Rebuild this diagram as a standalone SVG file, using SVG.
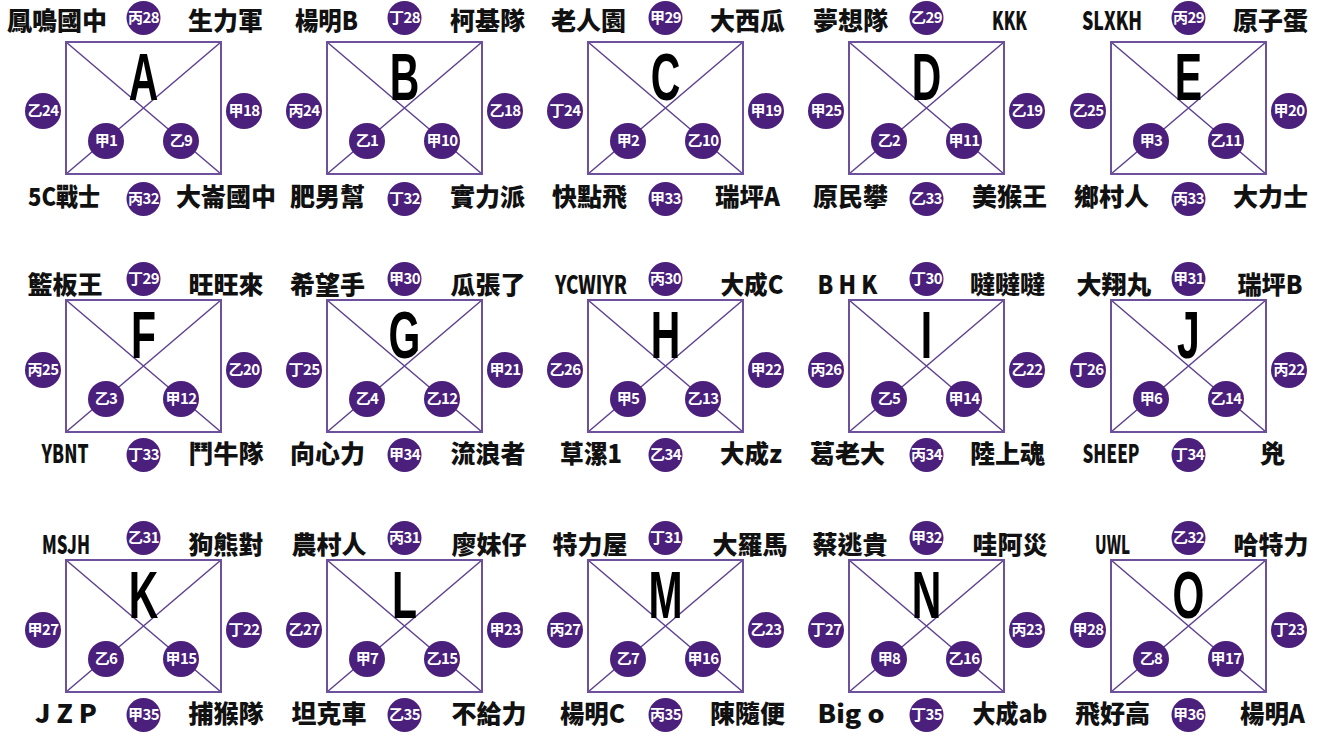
<svg xmlns="http://www.w3.org/2000/svg" width="1322" height="737" viewBox="0 0 1322 737">
<style>
.box{fill:none;stroke:#6d519c;stroke-width:2}
.dg{fill:none;stroke:#5f4291;stroke-width:1.5}
.big{font-family:"Liberation Sans",Arial,sans-serif;font-weight:bold;font-size:66px;text-anchor:middle;fill:#000}
.c{fill:#4b1f7c}
.s{r:18px}
.tb{r:17px}
.cl{font-family:"Noto Sans CJK TC","Noto Sans",sans-serif;font-weight:bold;font-size:15px;letter-spacing:-0.6px;text-anchor:middle;fill:#fff}
.t{font-family:"Noto Sans CJK TC","Noto Sans",sans-serif;font-weight:900;font-size:25px;text-anchor:middle;fill:#111}
</style>
<rect width="1322" height="737" fill="#fff"/>
<g id="connectors">
<path class="dg" d="M66,42L221,174M221,42L66,174"/>
<path class="dg" d="M327,42L482,174M482,42L327,174"/>
<path class="dg" d="M588,42L743,174M743,42L588,174"/>
<path class="dg" d="M849,42L1004,174M1004,42L849,174"/>
<path class="dg" d="M1111,42L1266,174M1266,42L1111,174"/>
<path class="dg" d="M66,300L221,432M221,300L66,432"/>
<path class="dg" d="M327,300L482,432M482,300L327,432"/>
<path class="dg" d="M588,300L743,432M743,300L588,432"/>
<path class="dg" d="M849,300L1004,432M1004,300L849,432"/>
<path class="dg" d="M1111,300L1266,432M1266,300L1111,432"/>
<path class="dg" d="M66,560L221,692M221,560L66,692"/>
<path class="dg" d="M327,560L482,692M482,560L327,692"/>
<path class="dg" d="M588,560L743,692M743,560L588,692"/>
<path class="dg" d="M849,560L1004,692M1004,560L849,692"/>
<path class="dg" d="M1111,560L1266,692M1266,560L1111,692"/>
</g>

<g id="node-A" transform="translate(66,42)">
<rect class="box" width="155" height="132"/>
<text class="big" transform="translate(77.5,57.5) scale(0.62,1)">A</text>
<circle class="c" cx="77.5" cy="-24" r="17"/><text class="cl" x="77.5" y="-18.8">丙28</text>
<circle class="c" cx="-23" cy="69" r="18"/><text class="cl" x="-23" y="74.2">乙24</text>
<circle class="c" cx="178" cy="69" r="18"/><text class="cl" x="178" y="74.2">甲18</text>
<circle class="c" cx="40" cy="99" r="18"/><text class="cl" x="40" y="104.2">甲1</text>
<circle class="c" cx="115" cy="99" r="18"/><text class="cl" x="115" y="104.2">乙9</text>
<circle class="c" cx="77.5" cy="157" r="17"/><text class="cl" x="77.5" y="162.2">丙32</text>
<text class="t" x="-9" y="-12">鳳鳴國中</text>
<text class="t" x="159.5" y="-12">生力軍</text>
<text class="t" x="-2" y="164" textLength="72" lengthAdjust="spacingAndGlyphs">5C戰士</text>
<text class="t" x="160" y="164">大崙國中</text>
</g>

<g id="node-B" transform="translate(327,42)">
<rect class="box" width="155" height="132"/>
<text class="big" transform="translate(77.5,57.5) scale(0.62,1)">B</text>
<circle class="c" cx="77.5" cy="-24" r="17"/><text class="cl" x="77.5" y="-18.8">丁28</text>
<circle class="c" cx="-23" cy="69" r="18"/><text class="cl" x="-23" y="74.2">丙24</text>
<circle class="c" cx="178" cy="69" r="18"/><text class="cl" x="178" y="74.2">乙18</text>
<circle class="c" cx="40" cy="99" r="18"/><text class="cl" x="40" y="104.2">乙1</text>
<circle class="c" cx="115" cy="99" r="18"/><text class="cl" x="115" y="104.2">甲10</text>
<circle class="c" cx="77.5" cy="157" r="17"/><text class="cl" x="77.5" y="162.2">丁32</text>
<text class="t" x="-0.5" y="-12" textLength="63" lengthAdjust="spacingAndGlyphs">楊明B</text>
<text class="t" x="160.5" y="-12">柯基隊</text>
<text class="t" x="0.5" y="164">肥男幫</text>
<text class="t" x="160.5" y="164">實力派</text>
</g>

<g id="node-C" transform="translate(588,42)">
<rect class="box" width="155" height="132"/>
<text class="big" transform="translate(77.5,57.5) scale(0.62,1)">C</text>
<circle class="c" cx="77.5" cy="-24" r="17"/><text class="cl" x="77.5" y="-18.8">甲29</text>
<circle class="c" cx="-23" cy="69" r="18"/><text class="cl" x="-23" y="74.2">丁24</text>
<circle class="c" cx="178" cy="69" r="18"/><text class="cl" x="178" y="74.2">甲19</text>
<circle class="c" cx="40" cy="99" r="18"/><text class="cl" x="40" y="104.2">甲2</text>
<circle class="c" cx="115" cy="99" r="18"/><text class="cl" x="115" y="104.2">乙10</text>
<circle class="c" cx="77.5" cy="157" r="17"/><text class="cl" x="77.5" y="162.2">甲33</text>
<text class="t" x="0.5" y="-12">老人園</text>
<text class="t" x="159.5" y="-12">大西瓜</text>
<text class="t" x="1.5" y="164">快點飛</text>
<text class="t" x="159.5" y="164" textLength="65" lengthAdjust="spacingAndGlyphs">瑞坪A</text>
</g>

<g id="node-D" transform="translate(849,42)">
<rect class="box" width="155" height="132"/>
<text class="big" transform="translate(77.5,57.5) scale(0.62,1)">D</text>
<circle class="c" cx="77.5" cy="-24" r="17"/><text class="cl" x="77.5" y="-18.8">乙29</text>
<circle class="c" cx="-23" cy="69" r="18"/><text class="cl" x="-23" y="74.2">甲25</text>
<circle class="c" cx="178" cy="69" r="18"/><text class="cl" x="178" y="74.2">乙19</text>
<circle class="c" cx="40" cy="99" r="18"/><text class="cl" x="40" y="104.2">乙2</text>
<circle class="c" cx="115" cy="99" r="18"/><text class="cl" x="115" y="104.2">甲11</text>
<circle class="c" cx="77.5" cy="157" r="17"/><text class="cl" x="77.5" y="162.2">乙33</text>
<text class="t" x="1.5" y="-12">夢想隊</text>
<text class="t" x="160.5" y="-12" textLength="35" lengthAdjust="spacingAndGlyphs">KKK</text>
<text class="t" x="1.5" y="164">原民攀</text>
<text class="t" x="160.5" y="164">美猴王</text>
</g>

<g id="node-E" transform="translate(1111,42)">
<rect class="box" width="155" height="132"/>
<text class="big" transform="translate(77.5,57.5) scale(0.62,1)">E</text>
<circle class="c" cx="77.5" cy="-24" r="17"/><text class="cl" x="77.5" y="-18.8">丙29</text>
<circle class="c" cx="-23" cy="69" r="18"/><text class="cl" x="-23" y="74.2">乙25</text>
<circle class="c" cx="178" cy="69" r="18"/><text class="cl" x="178" y="74.2">甲20</text>
<circle class="c" cx="40" cy="99" r="18"/><text class="cl" x="40" y="104.2">甲3</text>
<circle class="c" cx="115" cy="99" r="18"/><text class="cl" x="115" y="104.2">乙11</text>
<circle class="c" cx="77.5" cy="157" r="17"/><text class="cl" x="77.5" y="162.2">丙33</text>
<text class="t" x="1" y="-12" textLength="60" lengthAdjust="spacingAndGlyphs">SLXKH</text>
<text class="t" x="159.5" y="-12">原子蛋</text>
<text class="t" x="0.5" y="164">鄉村人</text>
<text class="t" x="159.5" y="164">大力士</text>
</g>

<g id="node-F" transform="translate(66,300)">
<rect class="box" width="155" height="132"/>
<text class="big" transform="translate(77.5,57.5) scale(0.62,1)">F</text>
<circle class="c" cx="77.5" cy="-21" r="17"/><text class="cl" x="77.5" y="-15.8">丁29</text>
<circle class="c" cx="-23" cy="70" r="18"/><text class="cl" x="-23" y="75.2">丙25</text>
<circle class="c" cx="178" cy="70" r="18"/><text class="cl" x="178" y="75.2">乙20</text>
<circle class="c" cx="40" cy="99" r="18"/><text class="cl" x="40" y="104.2">乙3</text>
<circle class="c" cx="115" cy="99" r="18"/><text class="cl" x="115" y="104.2">甲12</text>
<circle class="c" cx="77.5" cy="155" r="17"/><text class="cl" x="77.5" y="160.2">丁33</text>
<text class="t" x="-1" y="-6">籃板王</text>
<text class="t" x="160" y="-6">旺旺來</text>
<text class="t" x="-1" y="163" textLength="47" lengthAdjust="spacingAndGlyphs">YBNT</text>
<text class="t" x="160" y="163">鬥牛隊</text>
</g>

<g id="node-G" transform="translate(327,300)">
<rect class="box" width="155" height="132"/>
<text class="big" transform="translate(77.5,57.5) scale(0.62,1)">G</text>
<circle class="c" cx="77.5" cy="-21" r="17"/><text class="cl" x="77.5" y="-15.8">甲30</text>
<circle class="c" cx="-23" cy="70" r="18"/><text class="cl" x="-23" y="75.2">丁25</text>
<circle class="c" cx="178" cy="70" r="18"/><text class="cl" x="178" y="75.2">甲21</text>
<circle class="c" cx="40" cy="99" r="18"/><text class="cl" x="40" y="104.2">乙4</text>
<circle class="c" cx="115" cy="99" r="18"/><text class="cl" x="115" y="104.2">乙12</text>
<circle class="c" cx="77.5" cy="155" r="17"/><text class="cl" x="77.5" y="160.2">甲34</text>
<text class="t" x="0.5" y="-6">希望手</text>
<text class="t" x="161" y="-6">瓜張了</text>
<text class="t" x="0.5" y="163">向心力</text>
<text class="t" x="161" y="163">流浪者</text>
</g>

<g id="node-H" transform="translate(588,300)">
<rect class="box" width="155" height="132"/>
<text class="big" transform="translate(77.5,57.5) scale(0.62,1)">H</text>
<circle class="c" cx="77.5" cy="-21" r="17"/><text class="cl" x="77.5" y="-15.8">丙30</text>
<circle class="c" cx="-23" cy="70" r="18"/><text class="cl" x="-23" y="75.2">乙26</text>
<circle class="c" cx="178" cy="70" r="18"/><text class="cl" x="178" y="75.2">甲22</text>
<circle class="c" cx="40" cy="99" r="18"/><text class="cl" x="40" y="104.2">甲5</text>
<circle class="c" cx="115" cy="99" r="18"/><text class="cl" x="115" y="104.2">乙13</text>
<circle class="c" cx="77.5" cy="155" r="17"/><text class="cl" x="77.5" y="160.2">乙34</text>
<text class="t" x="3" y="-6" textLength="72" lengthAdjust="spacingAndGlyphs">YCWIYR</text>
<text class="t" x="164" y="-6" textLength="63" lengthAdjust="spacingAndGlyphs">大成C</text>
<text class="t" x="3" y="163" textLength="62" lengthAdjust="spacingAndGlyphs">草漯1</text>
<text class="t" x="163" y="163" textLength="62" lengthAdjust="spacingAndGlyphs">大成z</text>
</g>

<g id="node-I" transform="translate(849,300)">
<rect class="box" width="155" height="132"/>
<text class="big" transform="translate(77.5,57.5) scale(0.62,1)">I</text>
<circle class="c" cx="77.5" cy="-21" r="17"/><text class="cl" x="77.5" y="-15.8">丁30</text>
<circle class="c" cx="-23" cy="70" r="18"/><text class="cl" x="-23" y="75.2">丙26</text>
<circle class="c" cx="178" cy="70" r="18"/><text class="cl" x="178" y="75.2">乙22</text>
<circle class="c" cx="40" cy="99" r="18"/><text class="cl" x="40" y="104.2">乙5</text>
<circle class="c" cx="115" cy="99" r="18"/><text class="cl" x="115" y="104.2">甲14</text>
<circle class="c" cx="77.5" cy="155" r="17"/><text class="cl" x="77.5" y="160.2">丙34</text>
<text class="t" x="-1.5" y="-6" textLength="60" lengthAdjust="spacingAndGlyphs">B H K</text>
<text class="t" x="158.5" y="-6">噠噠噠</text>
<text class="t" x="-1.5" y="163">葛老大</text>
<text class="t" x="158.5" y="163">陸上魂</text>
</g>

<g id="node-J" transform="translate(1111,300)">
<rect class="box" width="155" height="132"/>
<text class="big" transform="translate(77.5,57.5) scale(0.62,1)">J</text>
<circle class="c" cx="77.5" cy="-21" r="17"/><text class="cl" x="77.5" y="-15.8">甲31</text>
<circle class="c" cx="-23" cy="70" r="18"/><text class="cl" x="-23" y="75.2">丁26</text>
<circle class="c" cx="178" cy="70" r="18"/><text class="cl" x="178" y="75.2">丙22</text>
<circle class="c" cx="40" cy="99" r="18"/><text class="cl" x="40" y="104.2">甲6</text>
<circle class="c" cx="115" cy="99" r="18"/><text class="cl" x="115" y="104.2">乙14</text>
<circle class="c" cx="77.5" cy="155" r="17"/><text class="cl" x="77.5" y="160.2">丁34</text>
<text class="t" x="3" y="-6">大翔丸</text>
<text class="t" x="159" y="-6" textLength="65" lengthAdjust="spacingAndGlyphs">瑞坪B</text>
<text class="t" x="0" y="163" textLength="57" lengthAdjust="spacingAndGlyphs">SHEEP</text>
<text class="t" x="161.5" y="163">兇</text>
</g>

<g id="node-K" transform="translate(66,560)">
<rect class="box" width="155" height="132"/>
<text class="big" transform="translate(77.5,57.5) scale(0.62,1)">K</text>
<circle class="c" cx="77.5" cy="-22" r="17"/><text class="cl" x="77.5" y="-16.8">乙31</text>
<circle class="c" cx="-23" cy="70" r="18"/><text class="cl" x="-23" y="75.2">甲27</text>
<circle class="c" cx="178" cy="70" r="18"/><text class="cl" x="178" y="75.2">丁22</text>
<circle class="c" cx="40" cy="99" r="18"/><text class="cl" x="40" y="104.2">乙6</text>
<circle class="c" cx="115" cy="99" r="18"/><text class="cl" x="115" y="104.2">甲15</text>
<circle class="c" cx="77.5" cy="155" r="17"/><text class="cl" x="77.5" y="160.2">甲35</text>
<text class="t" x="0" y="-6" textLength="48" lengthAdjust="spacingAndGlyphs">MSJH</text>
<text class="t" x="160" y="-6">狗熊對</text>
<text class="t" x="0" y="163" textLength="62" lengthAdjust="spacingAndGlyphs">J Z P</text>
<text class="t" x="160" y="163">捕猴隊</text>
</g>

<g id="node-L" transform="translate(327,560)">
<rect class="box" width="155" height="132"/>
<text class="big" transform="translate(77.5,57.5) scale(0.62,1)">L</text>
<circle class="c" cx="77.5" cy="-22" r="17"/><text class="cl" x="77.5" y="-16.8">丙31</text>
<circle class="c" cx="-23" cy="70" r="18"/><text class="cl" x="-23" y="75.2">乙27</text>
<circle class="c" cx="178" cy="70" r="18"/><text class="cl" x="178" y="75.2">甲23</text>
<circle class="c" cx="40" cy="99" r="18"/><text class="cl" x="40" y="104.2">甲7</text>
<circle class="c" cx="115" cy="99" r="18"/><text class="cl" x="115" y="104.2">乙15</text>
<circle class="c" cx="77.5" cy="155" r="17"/><text class="cl" x="77.5" y="160.2">乙35</text>
<text class="t" x="2" y="-6">農村人</text>
<text class="t" x="162" y="-6">廖妹仔</text>
<text class="t" x="2" y="163">坦克車</text>
<text class="t" x="162" y="163">不給力</text>
</g>

<g id="node-M" transform="translate(588,560)">
<rect class="box" width="155" height="132"/>
<text class="big" transform="translate(77.5,57.5) scale(0.62,1)">M</text>
<circle class="c" cx="77.5" cy="-22" r="17"/><text class="cl" x="77.5" y="-16.8">丁31</text>
<circle class="c" cx="-23" cy="70" r="18"/><text class="cl" x="-23" y="75.2">丙27</text>
<circle class="c" cx="178" cy="70" r="18"/><text class="cl" x="178" y="75.2">乙23</text>
<circle class="c" cx="40" cy="99" r="18"/><text class="cl" x="40" y="104.2">乙7</text>
<circle class="c" cx="115" cy="99" r="18"/><text class="cl" x="115" y="104.2">甲16</text>
<circle class="c" cx="77.5" cy="155" r="17"/><text class="cl" x="77.5" y="160.2">丙35</text>
<text class="t" x="2" y="-6">特力屋</text>
<text class="t" x="162" y="-6">大羅馬</text>
<text class="t" x="4.5" y="163" textLength="65" lengthAdjust="spacingAndGlyphs">楊明C</text>
<text class="t" x="159.5" y="163">陳隨便</text>
</g>

<g id="node-N" transform="translate(849,560)">
<rect class="box" width="155" height="132"/>
<text class="big" transform="translate(77.5,57.5) scale(0.62,1)">N</text>
<circle class="c" cx="77.5" cy="-22" r="17"/><text class="cl" x="77.5" y="-16.8">甲32</text>
<circle class="c" cx="-23" cy="70" r="18"/><text class="cl" x="-23" y="75.2">丁27</text>
<circle class="c" cx="178" cy="70" r="18"/><text class="cl" x="178" y="75.2">丙23</text>
<circle class="c" cx="40" cy="99" r="18"/><text class="cl" x="40" y="104.2">甲8</text>
<circle class="c" cx="115" cy="99" r="18"/><text class="cl" x="115" y="104.2">乙16</text>
<circle class="c" cx="77.5" cy="155" r="17"/><text class="cl" x="77.5" y="160.2">丁35</text>
<text class="t" x="1" y="-6">蔡逃貴</text>
<text class="t" x="161" y="-6">哇阿災</text>
<text class="t" x="2" y="163" textLength="67" lengthAdjust="spacingAndGlyphs">Big o</text>
<text class="t" x="161" y="163" textLength="75" lengthAdjust="spacingAndGlyphs">大成ab</text>
</g>

<g id="node-O" transform="translate(1111,560)">
<rect class="box" width="155" height="132"/>
<text class="big" transform="translate(77.5,57.5) scale(0.62,1)">O</text>
<circle class="c" cx="77.5" cy="-22" r="17"/><text class="cl" x="77.5" y="-16.8">乙32</text>
<circle class="c" cx="-23" cy="70" r="18"/><text class="cl" x="-23" y="75.2">甲28</text>
<circle class="c" cx="178" cy="70" r="18"/><text class="cl" x="178" y="75.2">丁23</text>
<circle class="c" cx="40" cy="99" r="18"/><text class="cl" x="40" y="104.2">乙8</text>
<circle class="c" cx="115" cy="99" r="18"/><text class="cl" x="115" y="104.2">甲17</text>
<circle class="c" cx="77.5" cy="155" r="17"/><text class="cl" x="77.5" y="160.2">甲36</text>
<text class="t" x="1.5" y="-6" textLength="35" lengthAdjust="spacingAndGlyphs">UWL</text>
<text class="t" x="160" y="-6">哈特力</text>
<text class="t" x="1.5" y="163">飛好高</text>
<text class="t" x="161.5" y="163" textLength="65" lengthAdjust="spacingAndGlyphs">楊明A</text>
</g>
</svg>
